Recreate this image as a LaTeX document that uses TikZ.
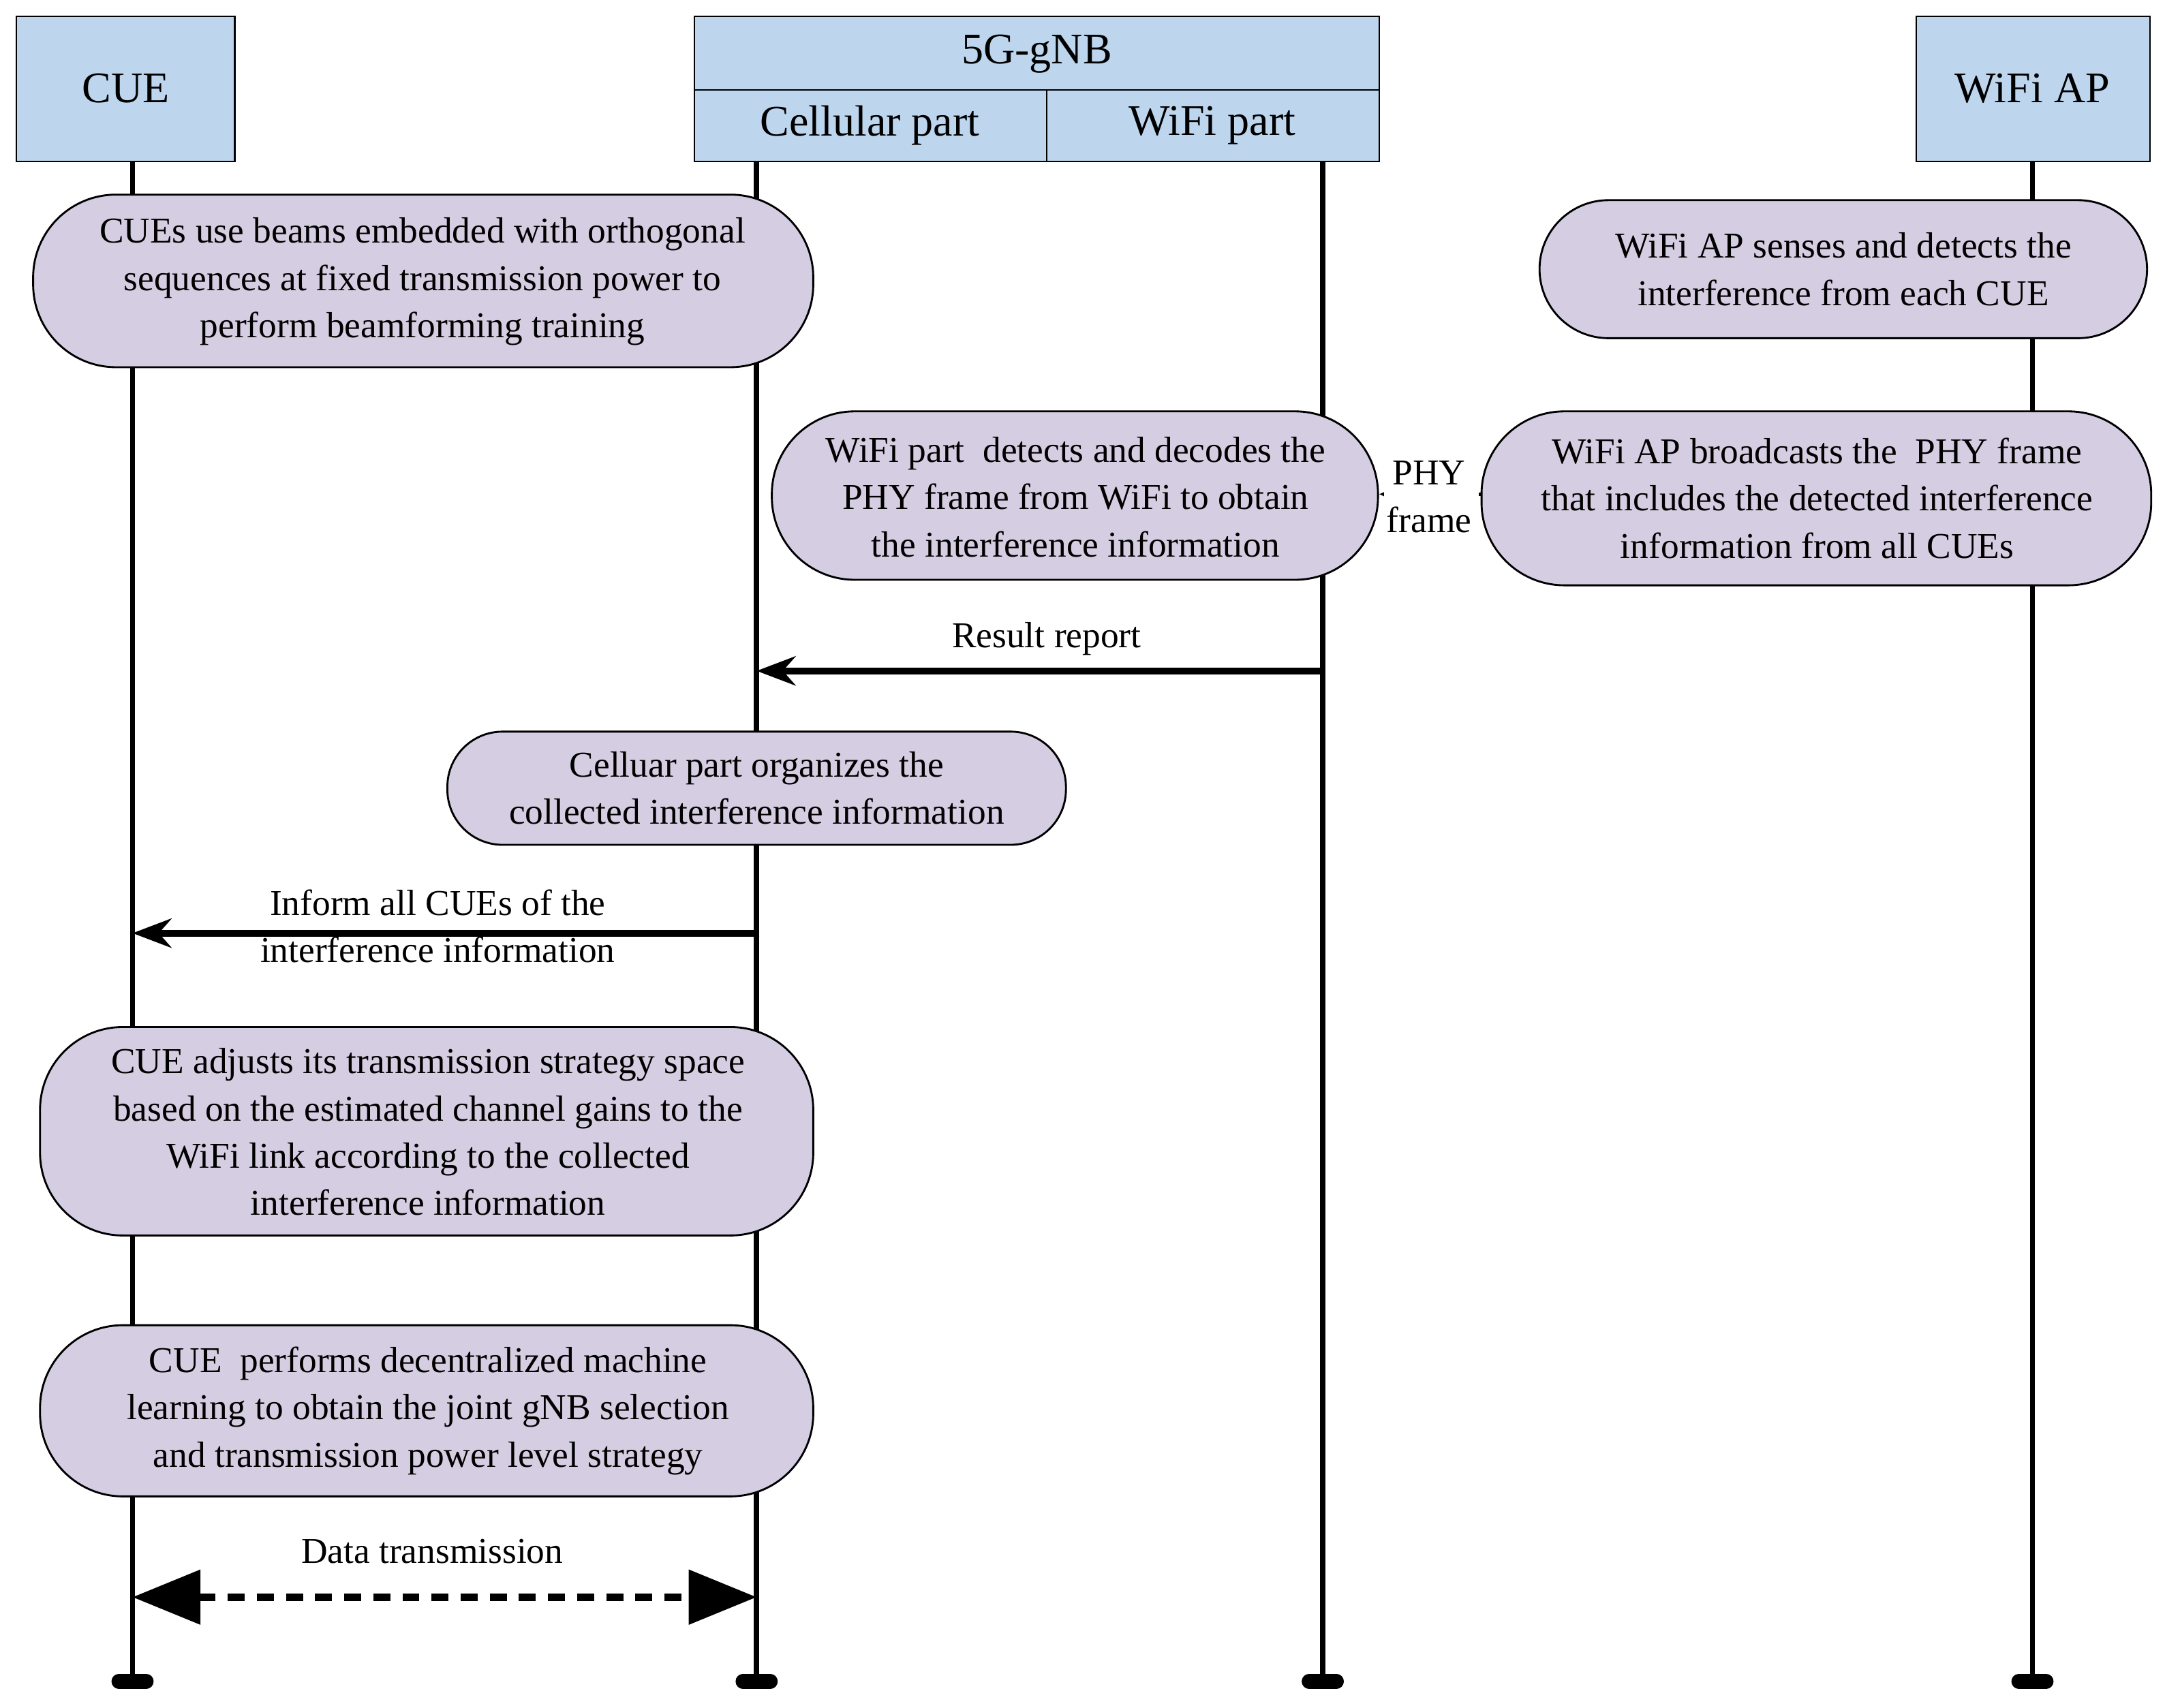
\documentclass[tikz,border=0pt]{standalone}
\usepackage{fontspec}
\setmainfont{Liberation Serif}
\usetikzlibrary{arrows.meta}
\definecolor{hdr}{RGB}{189,214,238}
\definecolor{lav}{RGB}{213,205,225}
\begin{document}
\begin{tikzpicture}[x=0.02cm,y=-0.02cm,
  hbox/.style={draw,fill=hdr,line width=0.6pt},
  pill/.style={draw,fill=lav,line width=0.8pt,rounded corners=0.6cm},
  txt/.style={font=\fontsize{15}{19.5}\selectfont,align=center,inner sep=0pt},
  life/.style={line width=2.2pt},
  msg/.style={line width=2.8pt,-{Stealth[length=16pt,width=12pt]}}]
\useasboundingbox (0,0) rectangle (1568,1237);
% headers
\draw[hbox] (12,12) rectangle (170,117);
\node[txt,font=\fontsize{18}{22}\selectfont] (cue) at (91,64) {CUE};
\draw[hbox] (503,12) rectangle (999,117);
\draw[line width=0.6pt] (503,65) -- (999,65) (758,65) -- (758,117);
\node[txt,font=\fontsize{18}{22}\selectfont] (gnb) at (751,39) {5G-gNB};
\node[txt,font=\fontsize{18}{22}\selectfont] (cp) at (630,91) {Cellular part};
\node[txt,font=\fontsize{18}{22}\selectfont] (wp) at (878,91) {WiFi part};
\draw[hbox] (1388,12) rectangle (1557,117);
\node[txt,font=\fontsize{18}{22}\selectfont] (ap) at (1472,64) {WiFi AP};
% lifelines
\coordinate (l1t) at (96,117); \coordinate (l1b) at (96,1218);
\coordinate (l2t) at (548,117); \coordinate (l2b) at (548,1218);
\coordinate (l3t) at (958,117); \coordinate (l3b) at (958,1218);
\coordinate (l4t) at (1472,117); \coordinate (l4b) at (1472,1218);
\foreach \a/\b in {l1t/l1b,l2t/l2b,l3t/l3b,l4t/l4b}{
  \draw[life] (\a) -- (\b);
  \draw[line width=6pt,line cap=round] ([xshift=-0.2cm]\b) -- ([xshift=0.2cm]\b);}
% pills
\draw[pill,rounded corners=1.2cm] (24,141) rectangle (589,266);
\node[txt] (b1) at (306,204) {CUEs use beams embedded with orthogonal\\sequences at fixed transmission power to\\perform beamforming training};
\draw[pill,rounded corners=1cm] (1115,145) rectangle (1555,245);
\node[txt] (b2) at (1335,195) {WiFi AP senses and detects the\\interference from each CUE};
\draw[pill,rounded corners=1.2cm] (559,298) rectangle (998,420);
\node[txt] (b3) at (779,360) {WiFi part\ \ detects and decodes the\\PHY frame from WiFi to obtain\\the interference information};
\draw[pill,rounded corners=1.2cm] (1073,298) rectangle (1558,424);
\node[txt] (b4) at (1316,361) {WiFi AP broadcasts the\ \ PHY frame\\that includes the detected interference\\information from all CUEs};
\draw[pill,rounded corners=0.8cm] (324,530) rectangle (772,612);
\node[txt] (b5) at (548,571) {Celluar part organizes the\\collected interference information};
\draw[pill,rounded corners=1.2cm] (29,744) rectangle (589,895);
\node[txt] (b6) at (310,820) {CUE adjusts its transmission strategy space\\based on the estimated channel gains to the\\WiFi link according to the collected\\interference information};
\draw[pill,rounded corners=1.2cm] (29,960) rectangle (589,1084);
\node[txt] (b7) at (310,1022) {CUE\ \ performs decentralized machine\\learning to obtain the joint gNB selection\\and transmission power level strategy};
% PHY frame
\coordinate (p1) at (1073,358); \coordinate (p2) at (999,358);
\draw[line width=1.2pt,dotted,-{Stealth[length=8pt,width=7pt]}] (p1) -- (p2);
\node[txt,fill=white,inner sep=1pt] (phy) at (1035,360) {PHY\\frame};
% result report
\coordinate (r1) at (958,486); \coordinate (r2) at (548,486);
\draw[msg] (r1) -- (r2);
\node[txt] (rr) at (758,463) {Result report};
% inform
\coordinate (i1) at (550,676); \coordinate (i2) at (96,676);
\node[txt] (inf) at (317,671) {Inform all CUEs of the\\interference information};
\draw[msg] (i1) -- (i2);
% data
\coordinate (d1) at (96,1157); \coordinate (d2) at (548,1157);
\draw[line width=3pt,dash pattern=on 7pt off 5pt,{Triangle[length=28pt,width=22pt]}-{Triangle[length=28pt,width=22pt]}] (d1) -- (d2);
\node[txt] (dt) at (313,1124) {Data transmission};
\end{tikzpicture}
\end{document}
